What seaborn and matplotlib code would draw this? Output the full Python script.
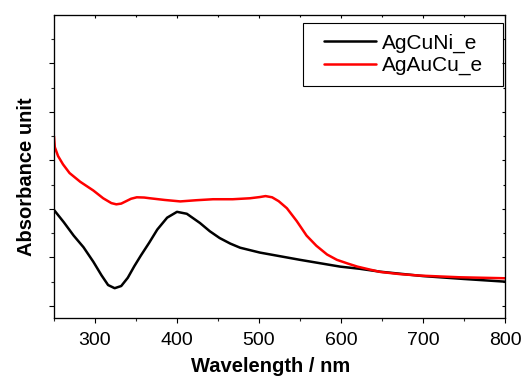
import pandas as pd
import matplotlib
matplotlib.use('Agg')
import matplotlib.pyplot as plt
from matplotlib.lines import Line2D
from matplotlib.legend_handler import HandlerLine2D
from matplotlib.ticker import MultipleLocator, NullFormatter
import seaborn as sns

# values (y in arbitrary absorbance units)
wl_agcuni = [250, 262, 274, 286, 298, 308, 316, 324, 332, 340, 348, 356, 366, 376,
             388, 400, 412, 428, 440, 452, 465, 477, 489, 501, 550, 599, 623, 648, 700, 750, 800]
abs_agcuni = [0.446, 0.395, 0.340, 0.292, 0.232, 0.176, 0.136, 0.123, 0.132, 0.166, 0.214,
              0.258, 0.310, 0.365, 0.414, 0.438, 0.430, 0.392, 0.358, 0.330, 0.307, 0.290,
              0.280, 0.270, 0.240, 0.212, 0.203, 0.191, 0.173, 0.161, 0.150]

wl_agaucu = [250, 251, 255, 261, 269, 282, 298, 310, 320, 326, 332, 338, 344, 351,
             360, 367, 385, 404, 424, 444, 468, 489, 501, 508, 516, 524, 534, 546,
             558, 570, 583, 595, 608, 620, 635, 648, 672, 696, 745, 800]
abs_agaucu = [0.750, 0.705, 0.668, 0.634, 0.598, 0.562, 0.526, 0.494, 0.474, 0.469,
              0.472, 0.482, 0.492, 0.498, 0.497, 0.494, 0.487, 0.481, 0.486, 0.490,
              0.490, 0.494, 0.499, 0.503, 0.498, 0.482, 0.453, 0.400, 0.340, 0.298,
              0.262, 0.240, 0.225, 0.212, 0.200, 0.190, 0.181, 0.175, 0.168, 0.164]

series_names = ['AgCuNi_e', 'AgAuCu_e']
series_colors = ['black', '#ff0000']

df = pd.concat([
    pd.DataFrame({'Wavelength': wl_agcuni, 'Absorbance': abs_agcuni, 'Sample': series_names[0]}),
    pd.DataFrame({'Wavelength': wl_agaucu, 'Absorbance': abs_agaucu, 'Sample': series_names[1]}),
])

sns.set_style('ticks')
plt.rcParams['font.family'] = ['Liberation Sans', 'DejaVu Sans']
plt.rcParams['text.color'] = 'black'
plt.rcParams['axes.labelcolor'] = 'black'

fig = plt.figure(figsize=(5.21, 3.78), dpi=100)
ax = fig.add_axes([0.1036, 0.1587, 0.8657, 0.8016])

sns.lineplot(data=df, x='Wavelength', y='Absorbance', hue='Sample',
             palette=dict(zip(series_names, series_colors)), linewidth=1.8,
             sort=False, ax=ax)

xlim = (250, 800)
ylim = (0, 1.25)
y_major = [0.05, 0.25, 0.45, 0.65, 0.85, 1.05]
y_minor = [0.15, 0.35, 0.55, 0.75, 0.95, 1.15]

ax.set_xlim(*xlim)
ax.set_ylim(*ylim)
ax.xaxis.set_major_locator(MultipleLocator(100))
ax.xaxis.set_minor_locator(MultipleLocator(50))
ax.set_yticks(y_major)
ax.set_yticks(y_minor, minor=True)
ax.yaxis.set_major_formatter(NullFormatter())
ax.tick_params(which='major', length=3.4, width=0.8, direction='out', pad=7,
               labelsize=14, colors='black')
ax.tick_params(which='minor', length=2, width=0.8, direction='out')
for s in ax.spines.values():
    s.set_linewidth(0.8)
    s.set_color('black')

# mirrored ticks on top / right, pointing inward
ax_top = ax.twiny()
ax_top.set_xlim(*xlim)
ax_top.xaxis.set_major_locator(MultipleLocator(100))
ax_top.xaxis.set_minor_locator(MultipleLocator(50))
ax_top.tick_params(which='both', direction='in', width=0.8, color='black', labeltop=False)
ax_top.tick_params(which='major', length=2.5)
ax_top.tick_params(which='minor', length=1.5)

ax_right = ax.twinx()
ax_right.set_ylim(*ylim)
ax_right.set_yticks(y_major)
ax_right.set_yticks(y_minor, minor=True)
ax_right.tick_params(which='both', direction='in', width=0.8, color='black', labelright=False)
ax_right.tick_params(which='major', length=2.5)
ax_right.tick_params(which='minor', length=1.5)
for a in (ax_top, ax_right):
    for s in a.spines.values():
        s.set_linewidth(0.8)
        s.set_color('black')

ax.set_xlabel('Wavelength / nm', fontsize=14.5, fontweight='bold')
ax.xaxis.set_label_coords(0.481, -0.13)
ax.set_ylabel('Absorbance unit', fontsize=14.5, fontweight='bold')
ax.yaxis.set_label_coords(-0.04, 0.467)

leg = ax.legend(loc='upper left', bbox_to_anchor=(0.553, 0.973, 0.443, 0.0), mode='expand',
                fontsize=15, frameon=True, fancybox=False, edgecolor='black',
                handlelength=3.0, handletextpad=0.25, labelspacing=0.15, borderpad=0.5,
                borderaxespad=0, handler_map={Line2D: HandlerLine2D(xpad=0.5)})
leg.get_frame().set_linewidth(0.8)
leg.get_frame().set_alpha(1)

fig.savefig('out.png', dpi=100)
